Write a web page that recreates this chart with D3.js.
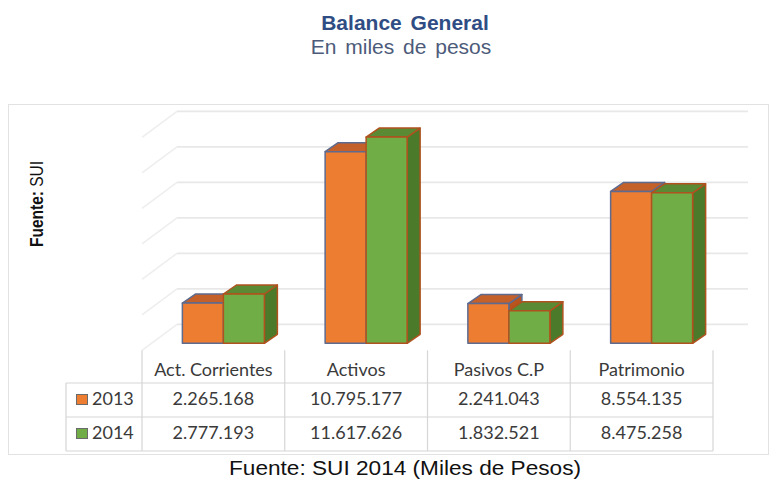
<!DOCTYPE html>
<html>
<head>
<meta charset="utf-8">
<script src="https://cdn.jsdelivr.net/npm/d3@7"></script>
<style>
  html, body { margin: 0; padding: 0; background: #ffffff; }
  svg { display: block; }
</style>
</head>
<body>
<script>
// ---- Data ----
const categories = ["Act. Corrientes", "Activos", "Pasivos C.P", "Patrimonio"];
const seriesNames = ["2013", "2014"];
const values2013 = [2265168, 10795177, 2241043, 8554135];
const values2014 = [2777193, 11617626, 1832521, 8475258];
const gridTicks = [0, 2000000, 4000000, 6000000, 8000000, 10000000, 12000000];
const titleText = "Balance General";
const subtitleText = "En miles de pesos";
const footerText = "Fuente: SUI 2014 (Miles de Pesos)";

const W = 772, H = 483;
const svg = d3.select("body").append("svg").attr("width", W).attr("height", H);

const colors = {
  "2013": { front: "#ED7D31", top: "#C4612A", side: "#B8541C", stroke: "#5E6A8E" },
  "2014": { front: "#70AD47", top: "#5A8B34", side: "#4B7A2A", stroke: "#B0521E" }
};

// Chart frame
svg.append("rect").attr("x", 8.5).attr("y", 104.5).attr("width", 760).attr("height", 350)
  .attr("fill", "none").attr("stroke", "#e2e2e2").attr("stroke-width", 1);

// Titles
svg.append("text").attr("x", 405).attr("y", 30).attr("text-anchor", "middle")
  .attr("font-family", "Liberation Sans, Arial, sans-serif").attr("font-weight", "bold")
  .attr("font-size", 21).attr("word-spacing", 3).attr("fill", "#2F4D84").text(titleText);
svg.append("text").attr("x", 401).attr("y", 54).attr("text-anchor", "middle")
  .attr("font-family", "Liberation Sans, Arial, sans-serif")
  .attr("font-size", 21).attr("word-spacing", 3).attr("fill", "#4D5B7A").text(subtitleText);

// Scales
const x = d3.scaleBand().domain(categories).range([142, 713]).paddingInner(0).paddingOuter(0);
const yLen = d3.scaleLinear().domain([0, 12000000]).range([0, 213]);
const frontFloorY = 350.3;
const wallDx = 35, wallDy = 26;        // depth from front floor to back wall
const barDx1 = 10, barDy1 = 7;         // bar front-face offset from front floor
const barDepthX = 13, barDepthY = 9;   // bar depth
const barW = 41;

// Gridlines on back wall + left side wall
const backZeroY = frontFloorY - wallDy;
const backLeft = x.range()[0] + wallDx, backRight = x.range()[1] + wallDx;
const grid = svg.append("g");
gridTicks.forEach(v => {
  const yy = backZeroY - yLen(v);
  grid.append("line").attr("x1", backLeft).attr("x2", backRight).attr("y1", yy).attr("y2", yy)
    .attr("stroke", "#e8e8e8").attr("stroke-width", 1.8);
  grid.append("line").attr("x1", backLeft).attr("y1", yy).attr("x2", x.range()[0]).attr("y2", yy + wallDy)
    .attr("stroke", "#eeeeee").attr("stroke-width", 1.5);
});

// Bars
const barsG = svg.append("g");
const pt = p => p.map(d => d.join(",")).join(" ");
categories.forEach((cat, i) => {
  const cx = x(cat) + x.bandwidth() / 2 + barDx1;
  const yb = frontFloorY - barDy1;
  const vals = [values2013[i], values2014[i]];
  seriesNames.forEach((s, j) => {
    const x0 = cx - barW + j * barW, x1 = x0 + barW;
    const yt = yb - yLen(vals[j]);
    const c = colors[s];
    const g = barsG.append("g").attr("stroke-linejoin", "round");
    g.append("polygon").attr("points", pt([[x1, yt], [x1 + barDepthX, yt - barDepthY], [x1 + barDepthX, yb - barDepthY], [x1, yb]]))
      .attr("fill", c.side).attr("stroke", c.stroke).attr("stroke-width", 1.5);
    g.append("polygon").attr("points", pt([[x0, yt], [x1, yt], [x1 + barDepthX, yt - barDepthY], [x0 + barDepthX, yt - barDepthY]]))
      .attr("fill", c.top).attr("stroke", c.stroke).attr("stroke-width", 1.5);
    g.append("rect").attr("x", x0).attr("y", yt).attr("width", barW).attr("height", yb - yt)
      .attr("fill", c.front).attr("stroke", c.stroke).attr("stroke-width", 1.5);
  });
});

// Data table
const fmtLocale = d3.formatLocale({ decimal: ",", thousands: ".", grouping: [3], currency: ["$", ""] });
const fmt = fmtLocale.format(",d");
const table = svg.append("g");
const tableLeft = 66;
const rowLines = [383, 417, 451];
const tblFont = "Lato, 'Open Sans', sans-serif";
const lineColor = "#d6d6d6";
const edges = categories.map(c => x(c)).concat([x.range()[1]]);
edges.forEach(ex => {
  table.append("line").attr("x1", ex).attr("x2", ex).attr("y1", frontFloorY).attr("y2", rowLines[2])
    .attr("stroke", lineColor).attr("stroke-width", 1.2);
});
table.append("line").attr("x1", tableLeft).attr("x2", tableLeft).attr("y1", rowLines[0]).attr("y2", rowLines[2])
  .attr("stroke", lineColor).attr("stroke-width", 1.2);
rowLines.forEach(ry => {
  table.append("line").attr("x1", tableLeft).attr("x2", x.range()[1]).attr("y1", ry).attr("y2", ry)
    .attr("stroke", lineColor).attr("stroke-width", 1.2);
});
categories.forEach(c => {
  table.append("text").attr("x", x(c) + x.bandwidth() / 2).attr("y", 376).attr("text-anchor", "middle")
    .attr("font-family", tblFont).attr("font-size", 18).attr("fill", "#3a3a3a").text(c);
});
const rowVals = [values2013, values2014];
const rowBase = [405, 439];
seriesNames.forEach((s, j) => {
  table.append("rect").attr("x", 76.5).attr("y", rowBase[j] - 10.5).attr("width", 11).attr("height", 10)
    .attr("fill", colors[s].front).attr("stroke", "#6a6a6a").attr("stroke-width", 1);
  table.append("text").attr("x", 92).attr("y", rowBase[j])
    .attr("font-family", tblFont).attr("font-size", 18).attr("fill", "#3a3a3a").text(s);
  categories.forEach((c, i) => {
    table.append("text").attr("x", x(c) + x.bandwidth() / 2).attr("y", rowBase[j]).attr("text-anchor", "middle")
      .attr("font-family", tblFont).attr("font-size", 18).attr("fill", "#3a3a3a").text(fmt(rowVals[j][i]));
  });
});

// Y-axis label
const yl = svg.append("text").attr("transform", "translate(43,204) rotate(-90)").attr("text-anchor", "middle")
  .attr("font-family", "Liberation Sans, Arial, sans-serif").attr("font-size", 18).attr("fill", "#111")
  .attr("textLength", 86).attr("lengthAdjust", "spacingAndGlyphs");
yl.append("tspan").attr("font-weight", "bold").text("Fuente:");
yl.append("tspan").text(" SUI");

// Footer
svg.append("text").attr("x", 405).attr("y", 475).attr("text-anchor", "middle")
  .attr("font-family", "Liberation Sans, Arial, sans-serif").attr("font-size", 20).attr("fill", "#111")
  .attr("textLength", 352).attr("lengthAdjust", "spacingAndGlyphs")
  .text(footerText);
</script>
</body>
</html>
